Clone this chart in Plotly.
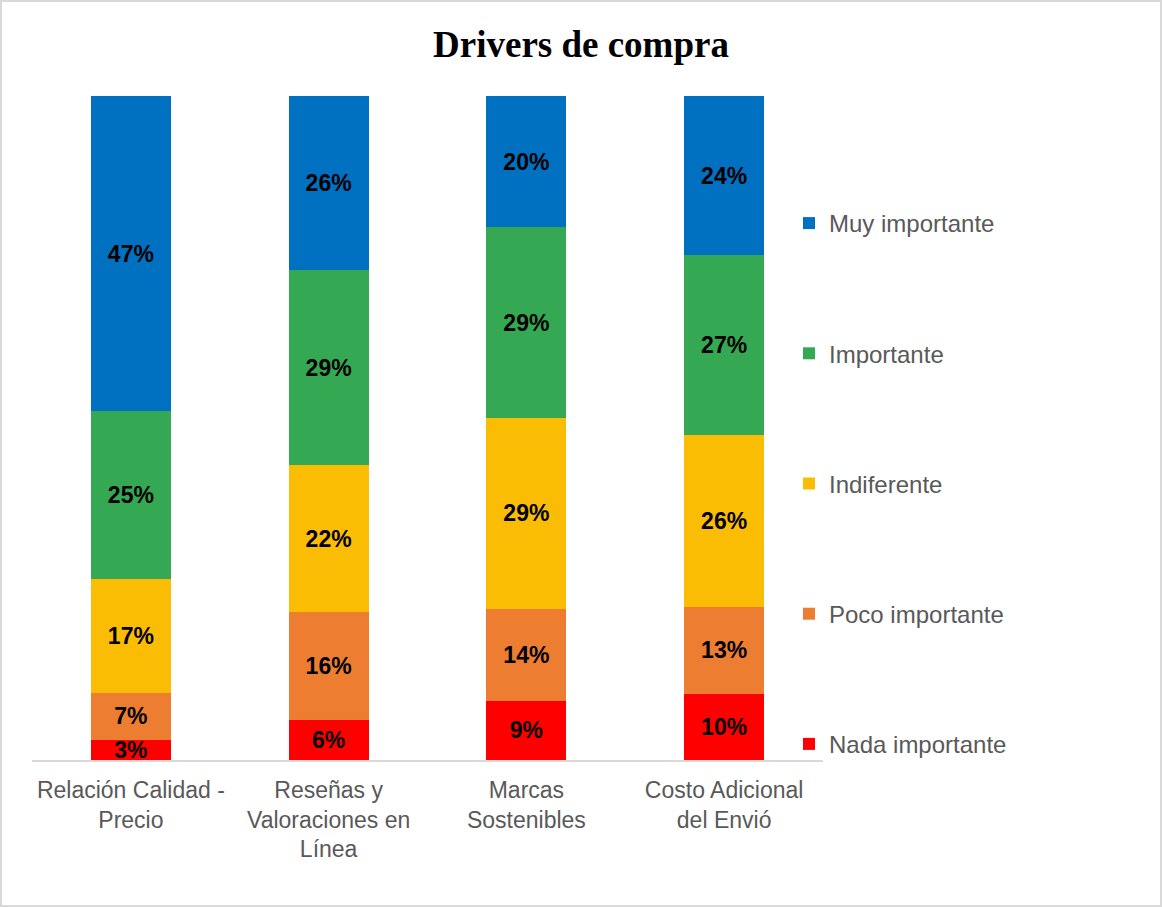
import plotly.graph_objects as go

categories = [
    "Relación Calidad -<br>Precio",
    "Reseñas y<br>Valoraciones en<br>Línea",
    "Marcas<br>Sostenibles",
    "Costo Adicional<br>del Envió",
]
nada_importante = [3, 6, 9, 10]
poco_importante = [7, 16, 14, 13]
indiferente = [17, 22, 29, 26]
importante = [25, 29, 29, 27]
muy_importante = [47, 26, 20, 24]

series = [
    ("Nada importante", nada_importante, "#FF0000"),
    ("Poco importante", poco_importante, "#ED7D31"),
    ("Indiferente", indiferente, "#FBBC04"),
    ("Importante", importante, "#34A853"),
    ("Muy importante", muy_importante, "#0070C0"),
]

W, H = 1162, 907
L, R, T, B = 32, 1162 - 823, 96, 907 - 760
pw, ph = W - L - R, H - T - B

fig = go.Figure()
n = len(series)
for i, (name, vals, color) in enumerate(series):
    fig.add_trace(go.Bar(
        x=categories, y=vals, name=name,
        marker=dict(color=color, line=dict(width=0)),
        text=[f"{v}%" for v in vals], texttemplate="%{text}",
        textposition="inside", insidetextanchor="middle", textangle=0,
        constraintext="none",
        textfont=dict(family="Liberation Sans, Arial", size=23, color="black", weight="bold"),
        legendgroup=f"g{i}", legendrank=n - i,
    ))

def px_x(p):
    return (p - L) / pw

def px_y(p):
    return (H - B - p) / ph

fig.update_layout(
    width=W, height=H,
    barmode="stack", barnorm="percent", bargap=0.595,
    margin=dict(l=L, r=R, t=T, b=B, pad=0),
    paper_bgcolor="white", plot_bgcolor="white",
    title=dict(text="<b>Drivers de compra</b>", x=0.5, xref="container", xanchor="center",
               y=1 - 44 / H, yref="container", yanchor="middle",
               font=dict(family="Liberation Serif, Times New Roman", size=37, color="black")),
    xaxis=dict(showline=True, linecolor="#D9D9D9", linewidth=2, ticks="",
               tickfont=dict(family="Liberation Sans, Arial", size=23, color="#595959"),
               ticklabelstandoff=8,
               showgrid=False, zeroline=False),
    yaxis=dict(range=[0, 100], visible=False, showgrid=False, zeroline=False),
    legend=dict(x=px_x(789), xanchor="left", y=px_y(201), yanchor="top",
                traceorder="grouped", tracegroupgap=96,
                font=dict(family="Liberation Sans, Arial", size=24, color="#595959"),
                bgcolor="rgba(0,0,0,0)"),
    showlegend=True,
    shapes=[dict(type="rect", xref="paper", yref="paper",
                 x0=px_x(1), x1=px_x(1161), y0=px_y(906), y1=px_y(1),
                 line=dict(color="#D9D9D9", width=2), fillcolor="rgba(0,0,0,0)", layer="below")],
)

fig.write_html("out.html", config={"displayModeBar": False},
               post_script="document.body.style.margin='0px';")
